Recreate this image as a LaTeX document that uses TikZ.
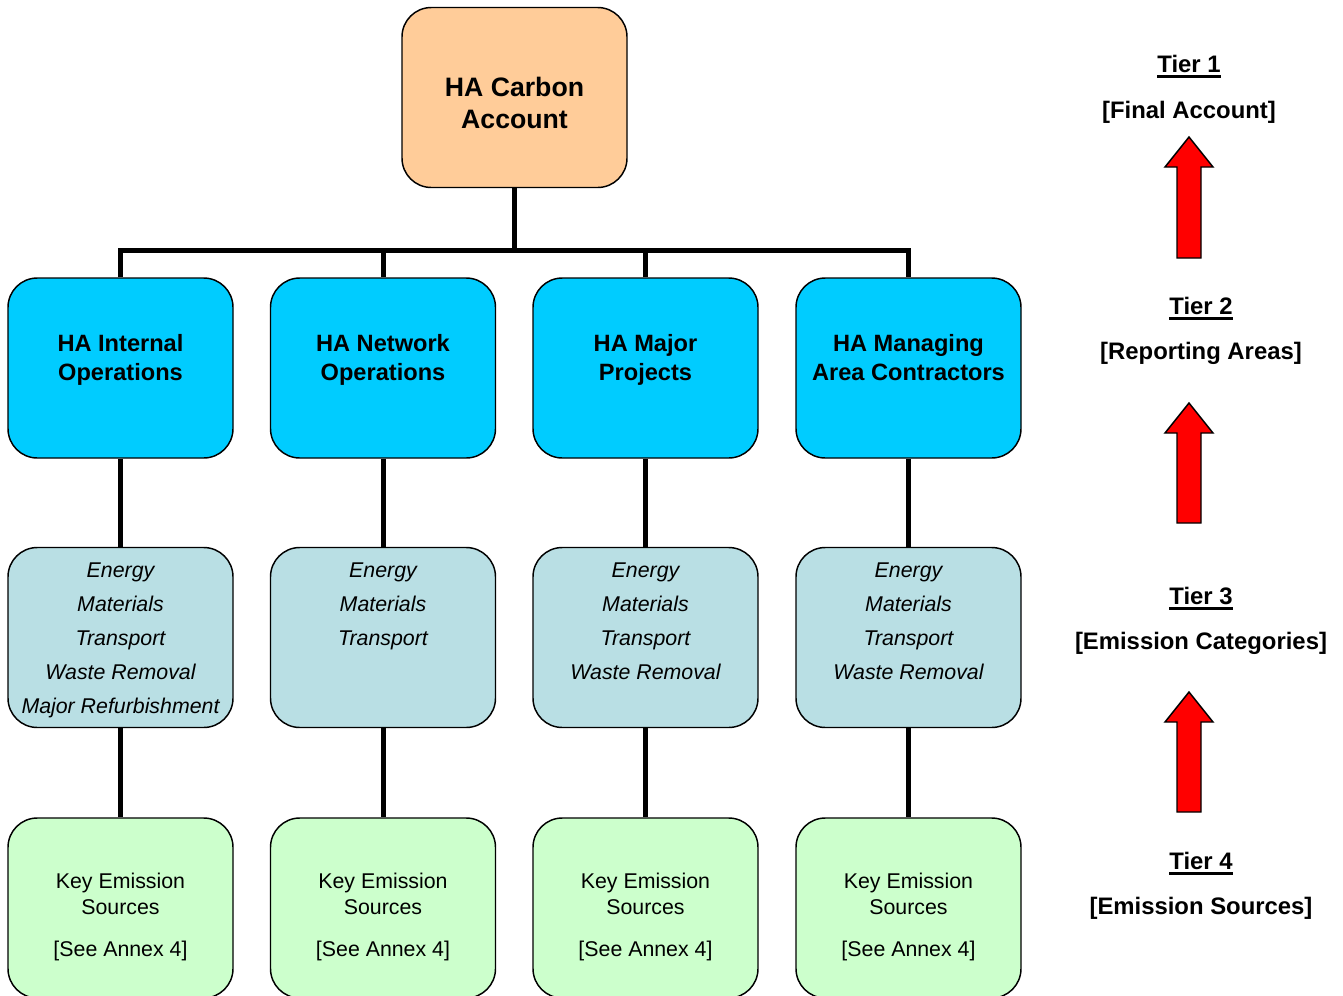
\documentclass[tikz,border=0pt]{standalone}
\usepackage{fontspec}
\setmainfont{Liberation Sans}
\definecolor{peach}{HTML}{FFCC99}
\definecolor{areablue}{HTML}{00CCFF}
\definecolor{catblue}{HTML}{B9DFE4}
\definecolor{mint}{HTML}{CCFFCC}
\begin{document}
\begin{tikzpicture}[x=0.75pt,y=-0.75pt,
  box/.style={draw=black, line width=1.1pt, rounded corners=22pt,
    minimum width=168.75pt, minimum height=135pt, inner sep=0pt},
  topbox/.style={box, fill=peach},
  areabox/.style={box, fill=areablue},
  catbox/.style={box, fill=catblue},
  srcbox/.style={box, fill=mint},
  toptext/.style={anchor=north, inner sep=0pt, align=center,
    font=\fontsize{20}{24}\selectfont\bfseries},
  areatext/.style={anchor=north, inner sep=0pt, align=center,
    font=\fontsize{17.7}{21.75}\selectfont\bfseries},
  cattext/.style={anchor=north, inner sep=0pt, align=center,
    font=\fontsize{16}{25.5}\selectfont\itshape},
  srctext/.style={anchor=north, inner sep=0pt, align=center,
    font=\fontsize{16}{19.5}\selectfont},
  tiertext/.style={anchor=base, inner sep=0pt,
    font=\fontsize{17.9}{21}\selectfont\bfseries},
  link/.style={line width=3.75pt, line join=miter},
  underbar/.style={line width=2.4pt},
  uparrow/.style={fill=red, draw=black, line width=1.1pt, line join=miter}]

\useasboundingbox (0,0) rectangle (1343,996);
\clip (0,0) rectangle (1343,996);

% Tier 1
\node[topbox] (top) at (514.5,97.5) {};
\node[toptext] (topT) at (514.5,77) {HA Carbon\\Account};

% Tier 2: reporting areas
\node[areabox] (internal) at (120.5,368) {};
\node[areabox] (network) at (383,368) {};
\node[areabox] (major) at (645.5,368) {};
\node[areabox] (contractors) at (908.5,368) {};
\node[areatext] (internalT) at (120.5,334) {HA Internal\\Operations};
\node[areatext] (networkT) at (383,334) {HA Network\\Operations};
\node[areatext] (majorT) at (645.5,334) {HA Major\\Projects};
\node[areatext] (contractorsT) at (908.5,334) {HA Managing\\Area Contractors};

% Tier 3: emission categories
\node[catbox] (internalC) at (120.5,637.5) {};
\node[catbox] (networkC) at (383,637.5) {};
\node[catbox] (majorC) at (645.5,637.5) {};
\node[catbox] (contractorsC) at (908.5,637.5) {};
\node[cattext] (internalCT) at (120.5,562.5) {Energy\\Materials\\Transport\\Waste Removal\\Major Refurbishment};
\node[cattext] (networkCT) at (383,562.5) {Energy\\Materials\\Transport};
\node[cattext] (majorCT) at (645.5,562.5) {Energy\\Materials\\Transport\\Waste Removal};
\node[cattext] (contractorsCT) at (908.5,562.5) {Energy\\Materials\\Transport\\Waste Removal};

% Tier 4: emission sources
\node[srcbox] (internalS) at (120.5,908) {};
\node[srcbox] (networkS) at (383,908) {};
\node[srcbox] (majorS) at (645.5,908) {};
\node[srcbox] (contractorsS) at (908.5,908) {};
\foreach \n/\x in {internal/120.5, network/383, major/645.5, contractors/908.5}
  \node[srctext] (\n ST) at (\x,872.5) {Key Emission\\Sources\\[12pt]{[See Annex 4]}};

% Connectors
\coordinate (bar) at (514.5,250);
\draw[link] (top.south) -- (bar);
\draw[link] (internal.north) |- (bar) -| (contractors.north);
\draw[link] (network.north) -- (network.north |- bar);
\draw[link] (major.north) -- (major.north |- bar);
\foreach \n in {internal, network, major, contractors} {
  \draw[link] (\n.south) -- (\n C.north);
  \draw[link] (\n C.south) -- (\n S.north);
}

% Tier legend
\node[tiertext] (t1) at (1189,72.4) {Tier 1};
\node[tiertext] (t1d) at (1189,118.4) {[Final Account]};
\node[tiertext] (t2) at (1201,314.4) {Tier 2};
\node[tiertext] (t2d) at (1201,359.4) {[Reporting Areas]};
\node[tiertext] (t3) at (1201,604.4) {Tier 3};
\node[tiertext] (t3d) at (1201,649.4) {[Emission Categories]};
\node[tiertext] (t4) at (1201,869.4) {Tier 4};
\node[tiertext] (t4d) at (1201,914.4) {[Emission Sources]};
\foreach \t in {t1,t2,t3,t4}
  \draw[underbar] ([yshift=-2.9pt]\t.base west) -- ([yshift=-2.9pt]\t.base east);

% Upward block arrows between tiers
\foreach \tip/\bot in {137/258, 403/523, 692/812}
  \draw[uparrow] (1189,\tip) -- (1213,\tip+30) -- (1201,\tip+30) -- (1201,\bot)
    -- (1177,\bot) -- (1177,\tip+30) -- (1165,\tip+30) -- cycle;

\end{tikzpicture}
\end{document}
